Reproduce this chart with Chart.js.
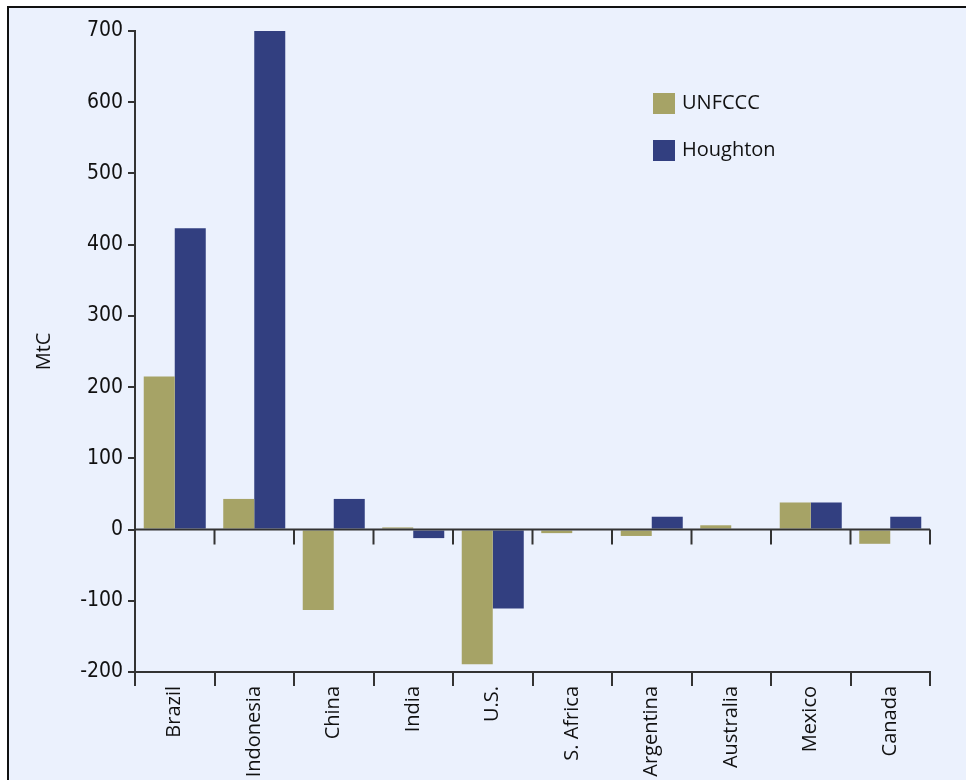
<!DOCTYPE html>
<html>
<head>
<meta charset="utf-8">
<script src="https://cdn.jsdelivr.net/npm/chart.js@4"></script>
<style>
  body { margin: 0; background: #fff; }
  #frame {
    position: absolute; left: 7px; top: 6px; width: 959px; height: 780px;
    background: #ebf1fd; border-left: 2px solid #111; border-top: 2px solid #111;
  }
  #wrap { position: absolute; left: 0; top: 0; width: 966px; height: 780px; }
</style>
</head>
<body>
<div id="frame"></div>
<div id="wrap"><canvas id="chart"></canvas></div>
<script>
const countries = ['Brazil', 'Indonesia', 'China', 'India', 'U.S.', 'S. Africa', 'Argentina', 'Australia', 'Mexico', 'Canada'];
const unfccc = [215, 43, -113, 3, -189, -5, -9, 6, 38, -20];
const houghton = [423, 700, 43, -12, -111, 0, 18, 0, 38, 18];
const yTicks = [700, 600, 500, 400, 300, 200, 100, 0, -100, -200];

const axisColor = '#333';

// zero line with its own tick marks between categories
const zeroLine = {
    id: 'zeroLine',
    afterDatasetsDraw(chart) {
        const ctx = chart.ctx;
        const x = chart.scales.x;
        const y0 = chart.scales.y.getPixelForValue(0);
        ctx.save();
        ctx.strokeStyle = axisColor;
        ctx.lineWidth = 2;
        ctx.beginPath();
        ctx.moveTo(chart.chartArea.left, y0);
        ctx.lineTo(chart.chartArea.right, y0);
        for (let i = 0; i <= countries.length; i++) {
            const px = i < countries.length
                ? x.getPixelForValue(i) - (x.getPixelForValue(1) - x.getPixelForValue(0)) / 2
                : chart.chartArea.right;
            ctx.moveTo(px, y0);
            ctx.lineTo(px, y0 + 15);
        }
        ctx.stroke();
        ctx.restore();
    }
};

// legend placed inside the plot, top right
const boxLegend = {
    id: 'boxLegend',
    afterDraw(chart) {
        const ctx = chart.ctx;
        ctx.save();
        ctx.font = '20px "Open Sans", sans-serif';
        ctx.textBaseline = 'middle';
        chart.data.datasets.forEach((ds, i) => {
            const top = 93 + i * 47;
            ctx.fillStyle = ds.backgroundColor;
            ctx.fillRect(653, top, 22, 21);
            ctx.fillStyle = '#111';
            ctx.fillText(ds.label, 682, top + 10);
        });
        ctx.restore();
    }
};

new Chart(document.getElementById('chart'), {
    type: 'bar',
    data: {
        labels: countries,
        datasets: [
            { label: 'UNFCCC', data: unfccc, backgroundColor: '#a6a366' },
            { label: 'Houghton', data: houghton, backgroundColor: '#323f80' }
        ]
    },
    options: {
        responsive: true,
        maintainAspectRatio: false,
        animation: false,
        layout: { padding: { top: 31, right: 36, left: 0, bottom: 0 } },
        datasets: { bar: { categoryPercentage: 0.78, barPercentage: 1 } },
        plugins: {
            legend: { display: false },
            tooltip: { enabled: false }
        },
        scales: {
            x: {
                grid: { offset: true, drawOnChartArea: false, tickLength: 14, lineWidth: 2, color: axisColor },
                border: { display: true, color: axisColor, width: 2 },
                ticks: {
                    minRotation: 90, maxRotation: 90, padding: 0,
                    color: '#111',
                    font: { family: '"Open Sans", sans-serif', size: 20 }
                },
                afterFit(scale) { scale.height = 108; }
            },
            y: {
                min: -200, max: 700,
                afterBuildTicks(scale) { scale.ticks = yTicks.map(v => ({ value: v })); },
                grid: { drawOnChartArea: false, tickLength: 7, lineWidth: 2, color: axisColor },
                border: { display: true, color: axisColor, width: 2 },
                ticks: {
                    padding: 5, color: '#111',
                    font: { family: '"Liberation Sans Narrow", "DejaVu Sans Condensed", sans-serif', size: 21 }
                },
                title: {
                    display: true, text: 'MtC', color: '#111',
                    padding: { top: 32, bottom: 0 },
                    font: { family: '"Open Sans", sans-serif', size: 20 }
                },
                afterFit(scale) { scale.width = 135; }
            }
        }
    },
    plugins: [zeroLine, boxLegend]
});
</script>
</body>
</html>
